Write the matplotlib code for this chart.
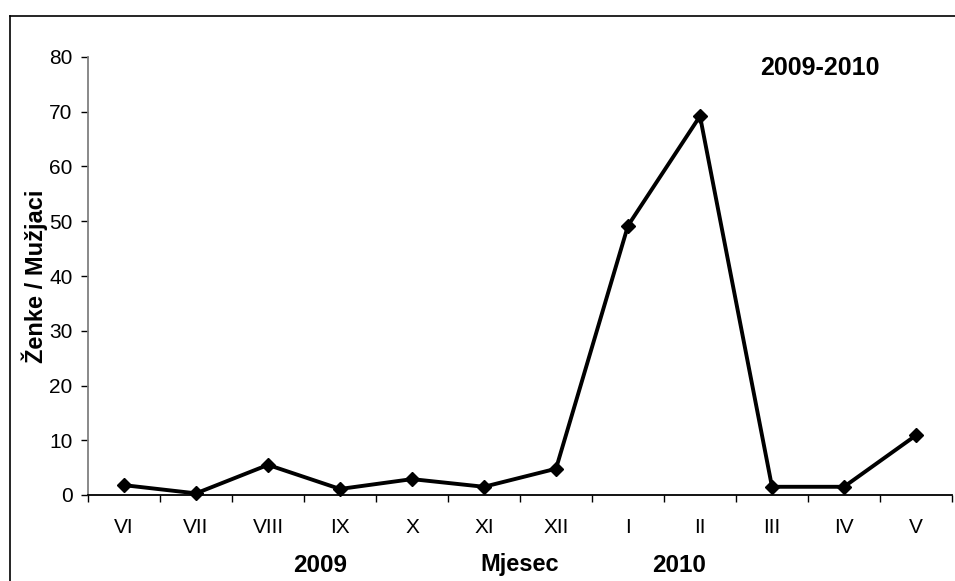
import numpy as np
import matplotlib.pyplot as plt
from matplotlib.lines import Line2D

months = ['VI', 'VII', 'VIII', 'IX', 'X', 'XI', 'XII', 'I', 'II', 'III', 'IV', 'V']
ratio = [1.8, 0.3, 5.5, 1.1, 2.9, 1.5, 4.8, 49.2, 69.2, 1.5, 1.5, 10.9]
yticks = [0, 10, 20, 30, 40, 50, 60, 70, 80]

plt.rcParams['font.family'] = ['Liberation Sans', 'DejaVu Sans']

W, H = 955, 581
fig = plt.figure(figsize=(W / 100, H / 100), dpi=100)
ax = fig.add_axes([88 / W, 86 / H, (952 - 88) / W, (495 - 57) / H])

x = np.arange(len(months))
ax.plot(x, ratio, color='black', lw=2.8, marker='D', ms=7.5, clip_on=False)

ax.set_xlim(-0.5, len(months) - 0.5)
ax.set_ylim(0, 80)
ax.set_yticks(yticks)
ax.set_xticks(x)
ax.set_xticklabels(months)
ax.set_xticks(np.arange(-0.5, len(months)), minor=True)
ax.tick_params(axis='x', which='major', length=0, pad=16.5, labelsize=15)
ax.tick_params(axis='x', which='minor', length=5, width=1, direction='out')
ax.tick_params(axis='y', length=5, width=1, direction='out', pad=6, labelsize=15)

for s in ['top', 'right']:
    ax.spines[s].set_visible(False)
ax.spines['left'].set_color('#808080')
ax.spines['left'].set_linewidth(1.3)
ax.spines['bottom'].set_color('black')
ax.spines['bottom'].set_linewidth(1.3)

fig.text(35 / W, 1 - 276 / H, 'Ženke / Mužjaci', rotation=90, ha='center', va='center',
         fontsize=17, fontweight='bold')

fig.text(320 / W, 1 - 565 / H, '2009', ha='center', va='center', fontsize=17.5, fontweight='bold')
fig.text(520 / W, 1 - 565 / H, 'Mjesec', ha='center', va='center', fontsize=17, fontweight='bold')
fig.text(679 / W, 1 - 565 / H, '2010', ha='center', va='center', fontsize=17.5, fontweight='bold')
fig.text(820 / W, 1 - 68 / H, '2009-2010', ha='center', va='center', fontsize=18, fontweight='bold')

# outer chart frame (only left and top edges visible)
fig.add_artist(Line2D([10 / W, 10 / W], [0, 1 - 16 / H], transform=fig.transFigure,
                      color='black', lw=1.2))
fig.add_artist(Line2D([10 / W, 1], [1 - 16 / H, 1 - 16 / H], transform=fig.transFigure,
                      color='black', lw=1.2))

fig.savefig('out.png', dpi=100)
